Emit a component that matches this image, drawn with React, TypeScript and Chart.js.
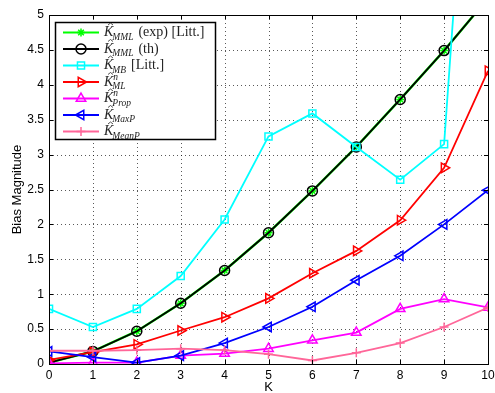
import React, { useEffect, useRef } from "react";
import { Chart, registerables } from "chart.js";

Chart.register(...registerables);

const kValues = [0, 1, 2, 3, 4, 5, 6, 7, 8, 9, 10];
const mmlExp = [0.02, 0.18, 0.47, 0.87, 1.34, 1.88, 2.48, 3.11, 3.79, 4.49, 5.24];
const mmlTh = [0.02, 0.18, 0.47, 0.87, 1.34, 1.88, 2.48, 3.11, 3.79, 4.49, 5.24];
const mbLitt = [0.79, 0.53, 0.79, 1.26, 2.07, 3.26, 3.59, 3.11, 2.64, 3.15, 12];
const mlN = [0.06, 0.17, 0.28, 0.48, 0.67, 0.94, 1.3, 1.62, 2.06, 2.81, 4.2];
const propN = [0.01, 0.02, 0.02, 0.12, 0.15, 0.22, 0.34, 0.45, 0.79, 0.93, 0.81];
const maxP = [0.18, 0.1, 0.02, 0.12, 0.3, 0.53, 0.82, 1.2, 1.55, 2.0, 2.49];
const meanP = [0.19, 0.19, 0.2, 0.22, 0.2, 0.14, 0.05, 0.16, 0.3, 0.53, 0.81];

const yTicks = [0, 0.5, 1, 1.5, 2, 2.5, 3, 3.5, 4, 4.5, 5];

type SeriesDef = {
  data: number[];
  color: string;
  style: string;
  rotation: number;
  radius: number;
  sub: string;
  sup: string;
  rest: string;
};

const series: SeriesDef[] = [
  { data: mmlExp, color: "#00ff00", style: "star", rotation: 0, radius: 4, sub: "MML", sup: "", rest: "(exp) [Litt.]" },
  { data: mmlTh, color: "#000000", style: "circle", rotation: 0, radius: 5, sub: "MML", sup: "", rest: "(th)" },
  { data: mbLitt, color: "#00ffff", style: "rect", rotation: 0, radius: 5, sub: "MB", sup: "", rest: "[Litt.]" },
  { data: mlN, color: "#ff0000", style: "triangle", rotation: 90, radius: 5.5, sub: "ML", sup: "n", rest: "" },
  { data: propN, color: "#ff00ff", style: "triangle", rotation: 0, radius: 5.5, sub: "Prop", sup: "n", rest: "" },
  { data: maxP, color: "#0000ff", style: "triangle", rotation: -90, radius: 5.5, sub: "MaxP", sup: "", rest: "" },
  { data: meanP, color: "#ff6699", style: "cross", rotation: 0, radius: 4.5, sub: "MeanP", sup: "", rest: "" },
];

function drawMarker(ctx: CanvasRenderingContext2D, s: SeriesDef, x: number, y: number) {
  ctx.save();
  ctx.strokeStyle = s.color;
  ctx.lineWidth = 1.5;
  ctx.beginPath();
  const r = s.radius;
  if (s.style === "circle") {
    ctx.arc(x, y, r, 0, Math.PI * 2);
  } else if (s.style === "rect") {
    const h = r * Math.SQRT1_2;
    ctx.rect(x - h, y - h, 2 * h, 2 * h);
  } else if (s.style === "triangle") {
    const rot = (s.rotation * Math.PI) / 180;
    for (let i = 0; i < 3; i++) {
      const a = rot - Math.PI / 2 + (i * 2 * Math.PI) / 3;
      const px = x + Math.cos(a) * r;
      const py = y + Math.sin(a) * r;
      if (i === 0) ctx.moveTo(px, py);
      else ctx.lineTo(px, py);
    }
    ctx.closePath();
  } else if (s.style === "cross") {
    ctx.moveTo(x - r, y);
    ctx.lineTo(x + r, y);
    ctx.moveTo(x, y - r);
    ctx.lineTo(x, y + r);
  } else if (s.style === "star") {
    for (let i = 0; i < 4; i++) {
      const a = (i * Math.PI) / 4;
      ctx.moveTo(x - Math.cos(a) * r, y - Math.sin(a) * r);
      ctx.lineTo(x + Math.cos(a) * r, y + Math.sin(a) * r);
    }
  }
  ctx.stroke();
  ctx.restore();
}

const framePlugin = {
  id: "matlabFrame",
  beforeDatasetsDraw(chart: any) {
    const { ctx, chartArea } = chart;
    const { left, right, top, bottom } = chartArea;
    const xs = chart.scales.x;
    const ys = chart.scales.y;
    ctx.save();
    ctx.strokeStyle = "rgba(0,0,0,0.65)";
    ctx.lineWidth = 1;
    ctx.setLineDash([1, 3]);
    kValues.forEach((k) => {
      if (k === 0 || k === 10) return;
      const px = Math.round(xs.getPixelForValue(k)) + 0.5;
      ctx.beginPath();
      ctx.moveTo(px, top);
      ctx.lineTo(px, bottom);
      ctx.stroke();
    });
    yTicks.forEach((v) => {
      if (v === 0 || v === 5) return;
      const py = Math.round(ys.getPixelForValue(v)) + 0.5;
      ctx.beginPath();
      ctx.moveTo(left, py);
      ctx.lineTo(right, py);
      ctx.stroke();
    });
    ctx.restore();
  },
  afterDraw(chart: any) {
    const { ctx, chartArea } = chart;
    const { left, right, top, bottom } = chartArea;
    const xs = chart.scales.x;
    const ys = chart.scales.y;
    ctx.save();
    ctx.strokeStyle = "#000";
    ctx.lineWidth = 1;
    ctx.setLineDash([]);
    ctx.strokeRect(Math.round(left) + 0.5, Math.round(top) + 0.5, Math.round(right - left), Math.round(bottom - top));
    const tl = 4;
    kValues.forEach((k) => {
      const px = Math.round(xs.getPixelForValue(k)) + 0.5;
      ctx.beginPath();
      ctx.moveTo(px, bottom);
      ctx.lineTo(px, bottom - tl);
      ctx.moveTo(px, top);
      ctx.lineTo(px, top + tl);
      ctx.stroke();
    });
    yTicks.forEach((v) => {
      const py = Math.round(ys.getPixelForValue(v)) + 0.5;
      ctx.beginPath();
      ctx.moveTo(left, py);
      ctx.lineTo(left + tl, py);
      ctx.moveTo(right, py);
      ctx.lineTo(right - tl, py);
      ctx.stroke();
    });

    // axis titles
    ctx.fillStyle = "#000";
    ctx.font = "13px 'Liberation Sans', Arial, sans-serif";
    ctx.textAlign = "center";
    ctx.textBaseline = "middle";
    ctx.fillText("K", (left + right) / 2, 387);
    ctx.save();
    ctx.translate(17, (top + bottom) / 2);
    ctx.rotate(-Math.PI / 2);
    ctx.fillText("Bias Magnitude", 0, 0);
    ctx.restore();

    // legend
    const bx = 55.5, by = 22.5, bw = 160, bh = 117;
    ctx.fillStyle = "#fff";
    ctx.fillRect(bx, by, bw, bh);
    ctx.strokeStyle = "#000";
    ctx.lineWidth = 1.5;
    ctx.strokeRect(bx, by, bw, bh);
    const rowH = 16.5;
    series.forEach((s, i) => {
      const cy = 32.5 + i * rowH;
      ctx.strokeStyle = s.color;
      ctx.lineWidth = 2;
      ctx.beginPath();
      ctx.moveTo(63, cy);
      ctx.lineTo(99, cy);
      ctx.stroke();
      drawMarker(ctx, s, 81, cy);
      const tx = 104;
      ctx.fillStyle = "#222";
      ctx.textAlign = "left";
      ctx.textBaseline = "alphabetic";
      ctx.font = "italic 14px 'Liberation Serif', 'Times New Roman', serif";
      const baseY = cy + 3.5;
      ctx.fillText("K", tx, baseY);
      const kw = ctx.measureText("K").width;
      // hat
      ctx.strokeStyle = "#222";
      ctx.lineWidth = 0.8;
      ctx.beginPath();
      ctx.moveTo(tx + 4, baseY - 11);
      ctx.lineTo(tx + 6.5, baseY - 13);
      ctx.lineTo(tx + 9, baseY - 11);
      ctx.stroke();
      ctx.font = "italic 9.5px 'Liberation Serif', 'Times New Roman', serif";
      const sx = tx + kw - 1;
      ctx.fillText(s.sub, sx, baseY + 3.5);
      const subW = ctx.measureText(s.sub).width;
      if (s.sup) ctx.fillText(s.sup, sx + 1, baseY - 6);
      if (s.rest) {
        ctx.font = "14px 'Liberation Serif', 'Times New Roman', serif";
        ctx.fillText(s.rest, sx + subW + 5, baseY);
      }
    });
    ctx.restore();
  },
};

export default function App() {
  const ref = useRef<HTMLCanvasElement | null>(null);
  useEffect(() => {
    document.body.style.margin = "0";
    const canvas = ref.current;
    if (!canvas) return;
    const n = series.length;
    const chart = new Chart(canvas, {
      type: "line",
      data: {
        datasets: series.map((s, i) => ({
          label: s.sub,
          data: kValues.map((k, j) => ({ x: k, y: s.data[j] })),
          borderColor: s.color,
          backgroundColor: "rgba(0,0,0,0)",
          pointBackgroundColor: "rgba(0,0,0,0)",
          pointBorderColor: s.color,
          borderWidth: i === 0 ? 2.5 : 1.8,
          pointBorderWidth: 1.5,
          pointStyle: s.style as any,
          pointRotation: s.rotation,
          pointRadius: s.radius,
          tension: 0,
          order: n - i,
        })),
      },
      options: {
        responsive: false,
        animation: false,
        events: [],
        layout: { padding: { top: 15, right: 6, left: 0, bottom: 0 } },
        plugins: {
          legend: { display: false },
          tooltip: { enabled: false },
          title: { display: false },
        },
        scales: {
          x: {
            type: "linear",
            min: 0,
            max: 10,
            grid: { display: false, drawTicks: false, tickLength: 0 },
            border: { display: false },
            ticks: {
              stepSize: 1,
              padding: 4,
              color: "#000",
              maxRotation: 0,
              font: { family: "'Liberation Sans', Arial, sans-serif", size: 12 },
            },
            afterFit(scale: any) {
              scale.height = 29;
              scale.paddingLeft = 0;
              scale.paddingRight = 0;
            },
          },
          y: {
            type: "linear",
            min: 0,
            max: 5,
            grid: { display: false, drawTicks: false, tickLength: 0 },
            border: { display: false },
            ticks: {
              stepSize: 0.5,
              padding: 5,
              color: "#000",
              font: { family: "'Liberation Sans', Arial, sans-serif", size: 12 },
              callback: (v: any) => String(Number(v)),
            },
            afterFit(scale: any) {
              scale.width = 49;
              scale.paddingTop = 0;
              scale.paddingBottom = 0;
            },
          },
        },
      },
      plugins: [framePlugin],
    });
    return () => chart.destroy();
  }, []);
  return (
    <div style={{ width: 495, height: 393 }}>
      <canvas ref={ref} width={495} height={393} style={{ display: "block" }} />
    </div>
  );
}
